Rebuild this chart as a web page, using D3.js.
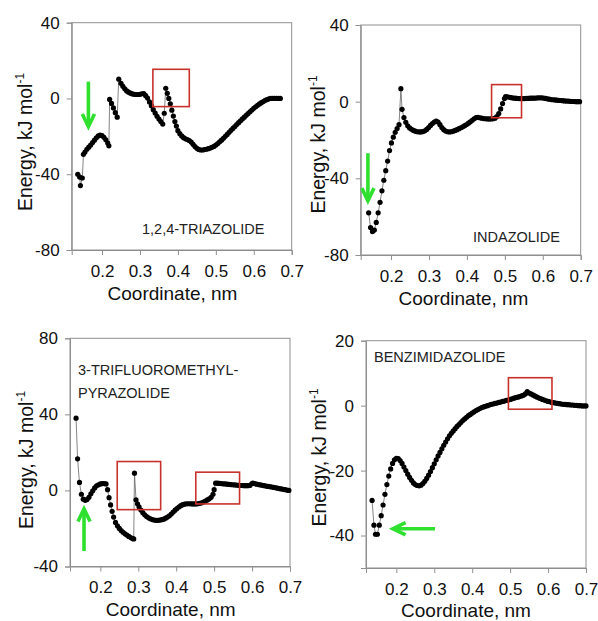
<!DOCTYPE html>
<html>
<head>
<meta charset="utf-8">
<script src="https://cdnjs.cloudflare.com/ajax/libs/d3/7.8.5/d3.min.js"></script>
<style>
  body { margin: 0; background: #fff; }
  svg { font-family: Arial, "Liberation Sans", sans-serif; }
</style>
</head>
<body>
<div id="chart"></div>
<script>
// ---- data: [coordinate nm, energy kJ/mol] ----
var triazolide = [
  [0.136,-40],[0.141,-41.5],[0.143,-46],[0.148,-42],[0.151,-29.5],
  [0.155,-28.3],[0.160,-26.8],[0.165,-25.7],[0.170,-24.6],[0.175,-23.3],[0.180,-22.0],[0.185,-20.8],
  [0.190,-19.8],[0.195,-19.3],[0.200,-19.6],[0.205,-20.5],[0.210,-21.8],[0.215,-23.5],[0.218,-25.0],
  [0.220,-0.5],[0.225,-2.6],[0.230,-5.0],[0.235,-7.5],[0.240,-9.9],
  [0.244,10.2],[0.250,8.0],[0.255,6.4],[0.260,5.1],[0.265,4.0],[0.270,3.3],[0.275,2.8],[0.280,2.4],
  [0.285,2.2],[0.290,2.1],[0.295,2.1],[0.300,2.2],[0.305,2.5],[0.310,2.6],[0.315,1.5],[0.320,0.2],
  [0.325,-1.8],[0.330,-3.8],[0.335,-5.9],[0.340,-7.7],[0.345,-9.4],[0.350,-10.9],[0.355,-12.2],[0.360,-13.5],
  [0.364,-7.8],[0.368,5.4],[0.372,2.7],[0.376,0.0],[0.380,-2.8],[0.384,-6.2],[0.388,-9.3],[0.392,-12.2],
  [0.396,-14.6],[0.400,-17.0],[0.405,-18.6],[0.410,-19.8],[0.415,-20.7],[0.420,-21.3],[0.425,-21.7],
  [0.430,-22.2],[0.435,-23.0],[0.440,-24.2],[0.445,-25.4],[0.450,-26.3],[0.455,-26.9],[0.460,-27.2],
  [0.465,-27.2],[0.470,-27.0],[0.475,-26.8],[0.480,-26.5],[0.485,-26.2],[0.490,-25.8],[0.495,-25.3],
  [0.500,-24.6],[0.505,-23.8],[0.510,-22.9],[0.515,-22.0],[0.520,-21.0],[0.525,-20.0],[0.530,-19.0],
  [0.535,-17.9],[0.540,-16.8],[0.545,-15.8],[0.550,-14.8],[0.555,-13.8],[0.560,-12.8],[0.565,-11.8],
  [0.570,-10.8],[0.575,-9.9],[0.580,-8.9],[0.585,-8.0],[0.590,-7.0],[0.595,-6.1],[0.600,-5.2],
  [0.605,-4.4],[0.610,-3.6],[0.615,-2.9],[0.620,-2.2],[0.625,-1.6],[0.630,-1.0],[0.635,-0.6],
  [0.640,-0.2],[0.645,0.0],[0.650,0.1],[0.655,0.1],[0.660,0.1],[0.665,0.0],[0.670,0.0]
];

var indazolide = [
  [0.141,-58],[0.146,-65.7],[0.151,-67.8],[0.156,-67],[0.161,-63],[0.166,-58],[0.171,-52.5],
  [0.176,-46.5],[0.181,-41],[0.186,-36],[0.191,-31],[0.196,-25.5],[0.201,-21.5],[0.206,-18.5],
  [0.211,-16],[0.216,-14],[0.221,-12],[0.226,6.8],[0.229,-4],[0.234,-8.3],[0.239,-10.8],[0.244,-12.6],
  [0.249,-13.7],[0.254,-14.4],[0.259,-15.0],[0.264,-15.4],[0.269,-15.7],[0.274,-15.8],[0.279,-15.8],
  [0.284,-15.6],[0.289,-15.2],[0.294,-14.5],[0.299,-13.5],[0.304,-12.4],[0.309,-11.4],[0.314,-10.6],
  [0.319,-10.1],[0.324,-10.6],[0.329,-12.0],[0.334,-13.5],[0.339,-14.6],[0.344,-15.3],[0.349,-15.7],
  [0.354,-15.8],[0.359,-15.7],[0.364,-15.4],[0.369,-15.0],[0.374,-14.6],[0.379,-14.1],[0.384,-13.6],
  [0.389,-13.1],[0.394,-12.5],[0.399,-11.9],[0.404,-11.2],[0.409,-10.5],[0.414,-9.7],[0.419,-8.9],
  [0.424,-8.3],[0.429,-8.2],[0.434,-8.4],[0.439,-8.6],[0.444,-8.8],[0.449,-8.9],[0.454,-9.0],
  [0.459,-9.0],[0.464,-9.0],[0.469,-8.9],[0.474,-8.6],[0.479,-7.8],[0.484,-6.2],[0.489,-3.8],
  [0.494,-1.0],[0.499,1.6],[0.502,2.6],[0.507,2.5],[0.512,2.3],[0.517,2.1],[0.522,1.9],[0.527,1.8],
  [0.532,1.7],[0.537,1.6],[0.542,1.6],[0.547,1.6],[0.552,1.6],[0.557,1.7],[0.562,1.7],[0.567,1.8],
  [0.572,1.8],[0.577,1.8],[0.582,1.9],[0.587,2.0],[0.592,2.0],[0.597,2.0],[0.602,1.9],[0.607,1.7],
  [0.612,1.5],[0.617,1.3],[0.622,1.1],[0.627,1.0],[0.632,0.9],[0.637,0.8],[0.642,0.7],[0.647,0.6],
  [0.652,0.5],[0.657,0.4],[0.662,0.3],[0.667,0.3],[0.672,0.2],[0.677,0.1],[0.682,0.1],[0.687,0.0],
  [0.692,0.0],[0.697,0.0]
];

var trifluoro = [
  [0.136,38],[0.140,16.6],[0.145,4.2],[0.150,-2.0],[0.155,-4.6],[0.160,-5.2],[0.165,-4.8],[0.170,-3.6],
  [0.175,-1.8],[0.180,-0.2],[0.185,1.3],[0.190,2.4],[0.195,3.0],[0.200,3.4],[0.205,3.6],[0.210,3.6],
  [0.215,3.4],[0.219,0.4],[0.223,-3.8],[0.227,-7.6],[0.231,-11.0],[0.235,-14.0],[0.240,-16.8],
  [0.245,-18.6],[0.250,-20.0],[0.255,-21.1],[0.260,-22.0],[0.265,-22.8],[0.270,-23.5],[0.275,-24.2],
  [0.280,-24.8],[0.285,-25.3],[0.288,-25.5],[0.290,9.1],[0.294,-4.9],[0.298,-7.0],[0.302,-8.6],
  [0.307,-10.3],[0.312,-11.7],[0.317,-12.8],[0.322,-13.7],[0.327,-14.4],[0.332,-14.9],[0.337,-15.3],
  [0.342,-15.6],[0.347,-15.7],[0.352,-15.7],[0.357,-15.6],[0.362,-15.4],[0.367,-15.1],[0.372,-14.6],
  [0.377,-14.0],[0.382,-13.3],[0.387,-12.4],[0.392,-11.4],[0.397,-10.4],[0.402,-9.5],[0.407,-8.7],
  [0.412,-8.0],[0.417,-7.5],[0.422,-7.2],[0.427,-7.0],[0.432,-7.0],[0.437,-7.0],[0.442,-7.1],
  [0.447,-7.1],[0.452,-7.1],[0.457,-7.0],[0.462,-6.8],[0.467,-6.5],[0.472,-6.1],[0.477,-5.6],
  [0.482,-5.0],[0.487,-4.4],[0.492,-3.6],[0.497,-2.0],[0.500,0.4],[0.504,3.8],[0.509,3.8],[0.514,3.7],
  [0.519,3.6],[0.524,3.5],[0.529,3.4],[0.534,3.3],[0.539,3.2],[0.544,3.1],[0.549,3.0],[0.554,2.9],
  [0.559,2.8],[0.564,2.7],[0.569,2.6],[0.574,2.6],[0.579,2.5],[0.584,2.5],[0.589,2.5],[0.594,2.6],
  [0.599,3.5],[0.602,3.9],[0.607,3.6],[0.612,3.3],[0.617,3.1],[0.622,2.9],[0.627,2.7],[0.632,2.5],
  [0.637,2.3],[0.642,2.1],[0.647,2.0],[0.652,1.8],[0.657,1.6],[0.662,1.4],[0.667,1.2],[0.672,1.0],
  [0.677,0.8],[0.682,0.6],[0.687,0.4],[0.692,0.2],[0.697,0.0]
];

var benzimidazolide = [
  [0.136,-29.2],[0.141,-36.8],[0.145,-39.6],[0.150,-39.6],[0.155,-36.8],[0.160,-33.9],[0.165,-30.6],
  [0.170,-27.3],[0.175,-24.3],[0.180,-21.7],[0.185,-19.5],[0.190,-17.8],[0.195,-16.7],[0.200,-16.2],
  [0.205,-16.3],[0.210,-16.9],[0.215,-17.8],[0.220,-18.9],[0.225,-20.0],[0.230,-21.1],[0.235,-22.1],
  [0.240,-23.0],[0.245,-23.8],[0.250,-24.3],[0.255,-24.6],[0.260,-24.7],[0.265,-24.5],[0.270,-24.0],
  [0.275,-23.3],[0.280,-22.4],[0.285,-21.4],[0.290,-20.3],[0.295,-19.1],[0.300,-17.9],[0.305,-16.7],
  [0.310,-15.5],[0.315,-14.4],[0.320,-13.3],[0.325,-12.2],[0.330,-11.2],[0.335,-10.2],[0.340,-9.3],
  [0.345,-8.5],[0.350,-7.8],[0.355,-7.1],[0.360,-6.4],[0.365,-5.8],[0.370,-5.2],[0.375,-4.6],
  [0.380,-4.1],[0.385,-3.6],[0.390,-3.1],[0.395,-2.7],[0.400,-2.3],[0.405,-1.9],[0.410,-1.5],
  [0.415,-1.2],[0.420,-0.9],[0.425,-0.6],[0.430,-0.4],[0.435,-0.2],[0.440,0.0],[0.445,0.2],
  [0.450,0.4],[0.455,0.5],[0.460,0.7],[0.465,0.8],[0.470,1.0],[0.475,1.1],[0.480,1.3],[0.485,1.4],
  [0.490,1.6],[0.495,1.7],[0.500,1.9],[0.505,2.1],[0.510,2.3],[0.515,2.5],[0.520,2.6],[0.525,2.8],
  [0.530,3.0],[0.535,3.2],[0.540,3.6],[0.545,4.3],[0.550,3.9],[0.555,3.6],[0.560,3.3],[0.565,3.0],
  [0.570,2.7],[0.575,2.4],[0.580,2.2],[0.585,1.9],[0.590,1.7],[0.595,1.5],[0.600,1.3],[0.605,1.2],
  [0.610,1.0],[0.615,0.9],[0.620,0.8],[0.625,0.7],[0.630,0.6],[0.635,0.5],[0.640,0.4],[0.645,0.4],
  [0.650,0.3],[0.655,0.3],[0.660,0.2],[0.665,0.2],[0.670,0.1],[0.675,0.1],[0.680,0.0],[0.685,0.0],
  [0.690,-0.1],[0.695,-0.1],[0.700,-0.1]
];

// axis ticks
var xTicks = [0.2, 0.3, 0.4, 0.5, 0.6, 0.7];
var yTicksTop = [-80, -40, 0, 40];
var yTicksPyr = [-40, 0, 40, 80];
var yTicksBenz = [-40, -20, 0, 20];

// highlighted regions [x0, x1, e0, e1] and arrows [x0, e0, x1, e1] (tail -> tip)
var boxesTriazolide = [[0.334, 0.430, -4.3, 15.4]];
var boxesIndazolide = [[0.465, 0.544, -8.4, 8.9]];
var boxesTrifluoro = [[0.2445, 0.359, -10.1, 15.2], [0.4516, 0.567, -7.1, 9.6]];
var boxesBenz = [[0.4955, 0.6103, -1.1, 8.6]];
var arrowTriazolide = [0.164, 8.9, 0.164, -14.9];
var arrowIndazolide = [0.139, -26.9, 0.139, -51.7];
var arrowTrifluoro = [0.157, -31.9, 0.157, -9.7];
var arrowBenz = [0.302, -37.9, 0.191, -37.9];

var width = 598, height = 621;
var svg = d3.select("#chart").append("svg")
    .attr("width", width)
    .attr("height", height);

var panels = [
  { data: triazolide, left: 71.7, right: 291.7, top: 22.7, bottom: 250, yDomain: [-80, 40], yTicks: yTicksTop,
    boxes: boxesTriazolide, arrow: arrowTriazolide, labels: ["1,2,4-TRIAZOLIDE"], labelX: 142, labelY: 234,
    yTitleX: 31.5, yTitleY: 142, xTitleX: 172.5, xTitleDy: 50 },
  { data: indazolide, left: 360.7, right: 580.7, top: 25, bottom: 255, yDomain: [-80, 40], yTicks: yTicksTop,
    boxes: boxesIndazolide, arrow: arrowIndazolide, labels: ["INDAZOLIDE"], labelX: 473, labelY: 242,
    yTitleX: 325, yTitleY: 144.5, xTitleX: 463.5, xTitleDy: 49.5 },
  { data: trifluoro, left: 70, right: 290, top: 338.3, bottom: 566.5, yDomain: [-40, 80], yTicks: yTicksPyr,
    boxes: boxesTrifluoro, arrow: arrowTrifluoro, labels: ["3-TRIFLUOROMETHYL-", "PYRAZOLIDE"], labelX: 78, labelY: 375,
    yTitleX: 33, yTitleY: 460, xTitleX: 170.7, xTitleDy: 49.5 },
  { data: benzimidazolide, left: 366, right: 586, top: 340.7, bottom: 568, yDomain: [-50, 20], yTicks: yTicksBenz,
    boxes: boxesBenz, arrow: arrowBenz, labels: ["BENZIMIDAZOLIDE"], labelX: 374, labelY: 362,
    yTitleX: 326, yTitleY: 457.5, xTitleX: 466, xTitleDy: 49 }
];

var frameColor = "#8f8f8f";

panels.forEach(function(p) {
  var x = d3.scaleLinear().domain([0.12, 0.7]).range([p.left, p.right]);
  var y = d3.scaleLinear().domain(p.yDomain).range([p.bottom, p.top]);
  var g = svg.append("g");

  // frame
  g.append("rect")
      .attr("x", p.left).attr("y", p.top)
      .attr("width", p.right - p.left).attr("height", p.bottom - p.top)
      .style("fill", "none").style("stroke", frameColor).style("stroke-width", 1);

  // axes (plain hyphen for negatives, as in the original figure)
  var xAxis = g.append("g")
      .attr("transform", "translate(0," + p.bottom + ")")
      .call(d3.axisBottom(x).tickValues(xTicks).tickFormat(function(d) { return d.toFixed(1); })
        .tickSize(5).tickPadding(9.5));
  var yAxis = g.append("g")
      .attr("transform", "translate(" + p.left + ",0)")
      .call(d3.axisLeft(y).tickValues(p.yTicks).tickFormat(function(d) { return String(d); })
        .tickSize(5).tickPadding(7));
  [xAxis, yAxis].forEach(function(a) {
    a.select(".domain").style("stroke", frameColor);
    a.selectAll(".tick line").style("stroke", frameColor);
    a.selectAll(".tick text").style("font-size", "17px").style("fill", "#111")
        .style("font-family", "Arial, 'Liberation Sans', sans-serif");
  });

  // connecting line and points
  var line = d3.line().x(function(d) { return x(d[0]); }).y(function(d) { return y(d[1]); });
  g.append("path")
      .datum(p.data)
      .attr("d", line)
      .style("fill", "none").style("stroke", "#666").style("stroke-width", 0.8);
  g.selectAll("circle")
      .data(p.data)
      .enter().append("circle")
      .attr("cx", function(d) { return x(d[0]); })
      .attr("cy", function(d) { return y(d[1]); })
      .attr("r", 2.6)
      .style("fill", "#000");

  // red boxes
  g.selectAll(".hl")
      .data(p.boxes)
      .enter().append("rect")
      .attr("class", "hl")
      .attr("x", function(b) { return x(b[0]); })
      .attr("y", function(b) { return y(b[3]); })
      .attr("width", function(b) { return x(b[1]) - x(b[0]); })
      .attr("height", function(b) { return y(b[2]) - y(b[3]); })
      .style("fill", "none").style("stroke", "#c8322c").style("stroke-width", 1.6);

  // green arrow
  var a = p.arrow;
  var x0 = x(a[0]), y0 = y(a[1]), x1 = x(a[2]), y1 = y(a[3]);
  var ang = Math.atan2(y1 - y0, x1 - x0), hl = 14, ha = 0.45;
  g.append("line")
      .attr("x1", x0).attr("y1", y0).attr("x2", x1).attr("y2", y1)
      .style("stroke", "#2fe02f").style("stroke-width", 3.6);
  g.append("path")
      .attr("d", "M" + (x1 - hl * Math.cos(ang - ha)) + "," + (y1 - hl * Math.sin(ang - ha)) +
                 "L" + x1 + "," + y1 +
                 "L" + (x1 - hl * Math.cos(ang + ha)) + "," + (y1 - hl * Math.sin(ang + ha)))
      .style("fill", "none").style("stroke", "#2fe02f").style("stroke-width", 3.6)
      .style("stroke-linejoin", "miter");

  // compound label
  p.labels.forEach(function(t, i) {
    g.append("text")
        .attr("x", p.labelX).attr("y", p.labelY + i * 23.3)
        .style("font-size", "14.5px").style("fill", "#222")
        .text(t);
  });

  // axis titles
  g.append("text")
      .attr("x", p.xTitleX).attr("y", p.bottom + p.xTitleDy)
      .attr("text-anchor", "middle")
      .style("font-size", "19px").style("fill", "#111")
      .text("Coordinate, nm");

  var yt = g.append("text")
      .attr("transform", "translate(" + p.yTitleX + "," + p.yTitleY + ") rotate(-90)")
      .attr("text-anchor", "middle")
      .style("font-size", "19.5px").style("fill", "#111");
  yt.append("tspan").text("Energy, kJ mol");
  yt.append("tspan").attr("dy", -8).style("font-size", "12px").text("-1");
});
</script>
</body>
</html>
